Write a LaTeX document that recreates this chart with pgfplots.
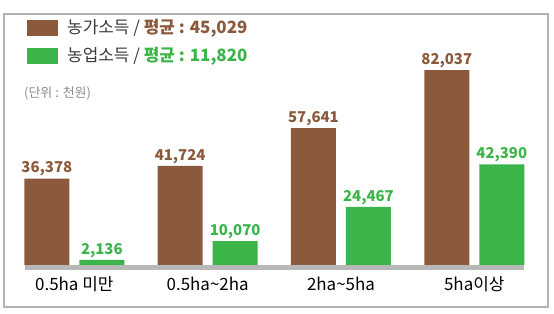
\documentclass[border=0pt]{standalone}
\usepackage{pgfplots}
\pgfplotsset{compat=1.18}
\usepackage{fontspec}
\setmainfont{Noto Sans CJK KR}
\definecolor{brn}{HTML}{8B5A3C}
\definecolor{grn}{HTML}{3BB54A}
\definecolor{txt}{HTML}{3A3A3A}
\begin{document}
\begin{tikzpicture}[x=1bp,y=1bp]
\useasboundingbox (0,0) rectangle (554,313);
\draw[black!30, line width=1.5bp] (4,6) rectangle (548,299);
% legend
\fill[brn] (27,277) rectangle (58,293);
\node[anchor=west, inner sep=0pt, text=txt, font=\fontsize{17}{17}\selectfont] at (67,285) {농가소득 / \textcolor{brn}{\bfseries 평균 : 45,029}};
\fill[grn] (27,249) rectangle (58,265);
\node[anchor=west, inner sep=0pt, text=txt, font=\fontsize{17}{17}\selectfont] at (67,257) {농업소득 / \textcolor{grn}{\bfseries 평균 : 11,820}};
\node[anchor=west, inner sep=0pt, text=black!45, font=\fontsize{13}{13}\selectfont] at (24,220) {(단위 : 천원)};
\begin{axis}[
  at={(25bp,48bp)}, anchor=south west,
  scale only axis, width=498.6bp, height=213.9bp,
  xmin=-0.37, xmax=3.37, ymin=0, ymax=90000,
  axis line style={draw=none},
  ytick=\empty,
  xtick={0,1,2,3},
  xticklabels={0.5ha 미만, 0.5ha\textasciitilde 2ha, 2ha\textasciitilde 5ha, 5ha이상},
  major tick length=0pt,
  xticklabel style={font=\fontsize{17}{17}\selectfont, text=black, yshift=-8bp},
  clip=false,
  ybar, bar width=45bp,
  nodes near coords,
  /pgf/number format/.cd, 1000 sep={,}, fixed, assume math mode=true,
]
\addplot[fill=brn, draw=none, bar shift=-27.5bp,
  nodes near coords style={font=\bfseries\fontsize{15}{15}\selectfont, text=brn, inner sep=2bp}]
  coordinates {(0,36378) (1,41724) (2,57641) (3,82037)};
\addplot[fill=grn, draw=none, bar shift=27.5bp,
  nodes near coords style={font=\bfseries\fontsize{15}{15}\selectfont, text=grn, inner sep=2bp}]
  coordinates {(0,2136) (1,10070) (2,24467) (3,42390)};
\draw[black!28, line width=5bp] ([yshift=-2.5bp]axis cs:-0.37,0) -- ([yshift=-2.5bp]axis cs:3.37,0);
\end{axis}
\end{tikzpicture}
\end{document}
